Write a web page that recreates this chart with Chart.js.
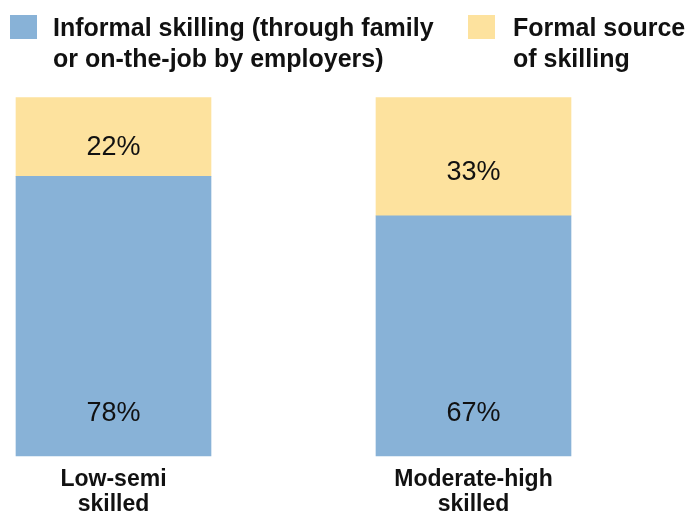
<!DOCTYPE html>
<html>
<head>
<meta charset="utf-8">
<script src="https://cdn.jsdelivr.net/npm/chart.js@4.4.1/dist/chart.umd.min.js"></script>
<style>
  html, body { margin: 0; padding: 0; background: #ffffff; }
  #wrap { width: 692px; height: 512px; }
</style>
</head>
<body>
<div id="wrap"><canvas id="c" width="692" height="512"></canvas></div>
<script>
const categories = [["Low-semi", "skilled"], ["Moderate-high", "skilled"]];
const informalValues = [78, 67];
const formalValues = [22, 33];
const seriesNames = ["Informal skilling (through family or on-the-job by employers)", "Formal source of skilling"];
const legendLines = [["Informal skilling (through family", "or on-the-job by employers)"], ["Formal source", "of skilling"]];
const seriesColors = ["#88b2d7", "#fde29e"];

const FONT = "'Liberation Sans', Arial, Helvetica, sans-serif";

const valueLabels = {
  id: 'valueLabels',
  afterDatasetsDraw(chart) {
    const ctx = chart.ctx;
    ctx.save();
    ctx.font = "27px " + FONT;
    ctx.fillStyle = "#111111";
    ctx.textAlign = "center";
    ctx.textBaseline = "middle";
    chart.data.datasets.forEach((ds, di) => {
      const meta = chart.getDatasetMeta(di);
      meta.data.forEach((bar, i) => {
        const p = bar.getProps(['x', 'y', 'base'], true);
        let y;
        if (di === 0) y = p.base - 42.5;
        else y = p.y + 0.635 * (p.base - p.y);
        ctx.fillText(ds.data[i] + "%", p.x, y);
      });
    });
    ctx.restore();
  }
};

const customLegend = {
  id: 'customLegend',
  afterDraw(chart) {
    const ctx = chart.ctx;
    ctx.save();
    const boxX = [10, 468];
    const textX = [53, 513];
    chart.data.datasets.forEach((ds, di) => {
      ctx.fillStyle = ds.backgroundColor;
      ctx.fillRect(boxX[di], 15, 27, 24);
      ctx.fillStyle = "#111111";
      ctx.font = "bold 25px " + FONT;
      ctx.textAlign = "left";
      ctx.textBaseline = "alphabetic";
      legendLines[di].forEach((line, li) => {
        ctx.fillText(line, textX[di], 35.5 + li * 31);
      });
    });
    ctx.restore();
  }
};

new Chart(document.getElementById('c'), {
  type: 'bar',
  data: {
    labels: categories,
    datasets: [
      { label: seriesNames[0], data: informalValues, backgroundColor: seriesColors[0], clip: false, barThickness: 195, borderWidth: 0 },
      { label: seriesNames[1], data: formalValues, backgroundColor: seriesColors[1], clip: false, barThickness: 195, borderWidth: 0 }
    ]
  },
  options: {
    responsive: false,
    animation: false,
    layout: { padding: { left: 113.5, right: 218.5, top: 97.5, bottom: 0 } },
    plugins: {
      legend: { display: false },
      tooltip: { enabled: false }
    },
    scales: {
      x: {
        stacked: true,
        offset: false,
        grid: { display: false, drawTicks: false },
        border: { display: false },
        ticks: {
          color: "#111111",
          font: { family: FONT, size: 23, weight: 'bold', lineHeight: 1.087 },
          padding: 11,
          maxRotation: 0,
          autoSkip: false
        },
        afterFit(scale) { scale.height = 56; }
      },
      y: {
        stacked: true,
        display: false,
        min: 0,
        max: 100
      }
    }
  },
  plugins: [valueLabels, customLegend]
});
</script>
</body>
</html>
